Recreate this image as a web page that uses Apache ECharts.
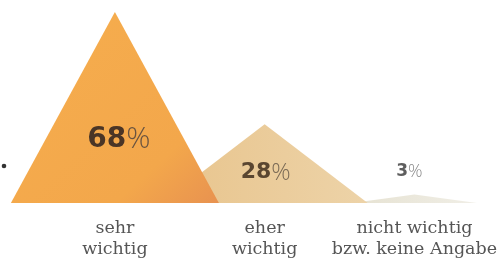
<!DOCTYPE html>
<html><head><meta charset="utf-8">
<script src="https://cdn.jsdelivr.net/npm/echarts@6/dist/echarts.min.js"></script>
<style>html,body{margin:0;padding:0;background:#fff}#c{width:500px;height:267px}</style>
</head><body><div id="c"></div>
<script>
const categories = ['sehr\nwichtig', 'eher\nwichtig', 'nicht wichtig\nbzw. keine Angabe'];
const values = [68, 28, 3];

// styling (not data)
const fills = [
  {type:'linear',x:0,y:0,x2:1,y2:1,colorStops:[{offset:0,color:'#F6AE4E'},{offset:0.75,color:'#F3A74B'},{offset:1,color:'#E89250'}]},
  {type:'linear',x:0,y:0,x2:1,y2:0,colorStops:[{offset:0,color:'#E8C48C'},{offset:1,color:'#EDD3A8'}]},
  {type:'linear',x:0,y:0,x2:1,y2:0,colorStops:[{offset:0,color:'#E6E2D2'},{offset:1,color:'#F0EEE6'}]}
];
const zs = [3, 2, 1];
const widths = [208, 206, 125];
const labelShiftX = [4, 1, -5];
const labelShiftY = [32, 9, -27];
const numSizes = [28, 22, 17];
const numColors = ['#4A3526', '#5A4630', '#5E5E5E'];
const pctColors = ['#6A5440', '#7A6A55', '#8A8A8A'];

const chart = echarts.init(document.getElementById('c'));
chart.setOption({
  animation: false,
  grid: {left: 40, right: 10, top: 12, bottom: 64},
  xAxis: {
    type: 'category', data: categories,
    axisLine: {show: false}, axisTick: {show: false},
    axisLabel: {fontFamily: 'DejaVu Serif', fontSize: 17.5, color: '#555', lineHeight: 21, margin: 15, interval: 0}
  },
  yAxis: {type: 'value', min: 0, max: 68, show: false, splitLine: {show: false}},
  series: [{
    type: 'pictorialBar',
    symbol: 'triangle',
    data: values.map((v, i) => ({
      value: v,
      z: zs[i],
      symbolSize: [widths[i], '100%'],
      itemStyle: {color: fills[i]},
      label: {
        show: true, position: 'inside', offset: [labelShiftX[i], labelShiftY[i]],
        formatter: '{n|' + v + '}{p|%}',
        rich: {
          n: {fontFamily: 'DejaVu Sans', fontWeight: 'bold', fontSize: numSizes[i], color: numColors[i]},
          p: {fontFamily: 'Open Sans', fontWeight: 300, fontSize: Math.round(numSizes[i] * 1.08), color: pctColors[i]}
        }
      }
    }))
  }],
  graphic: [{type: 'circle', shape: {cx: 4, cy: 166, r: 2.3}, style: {fill: '#333'}}]
});
</script></body></html>
